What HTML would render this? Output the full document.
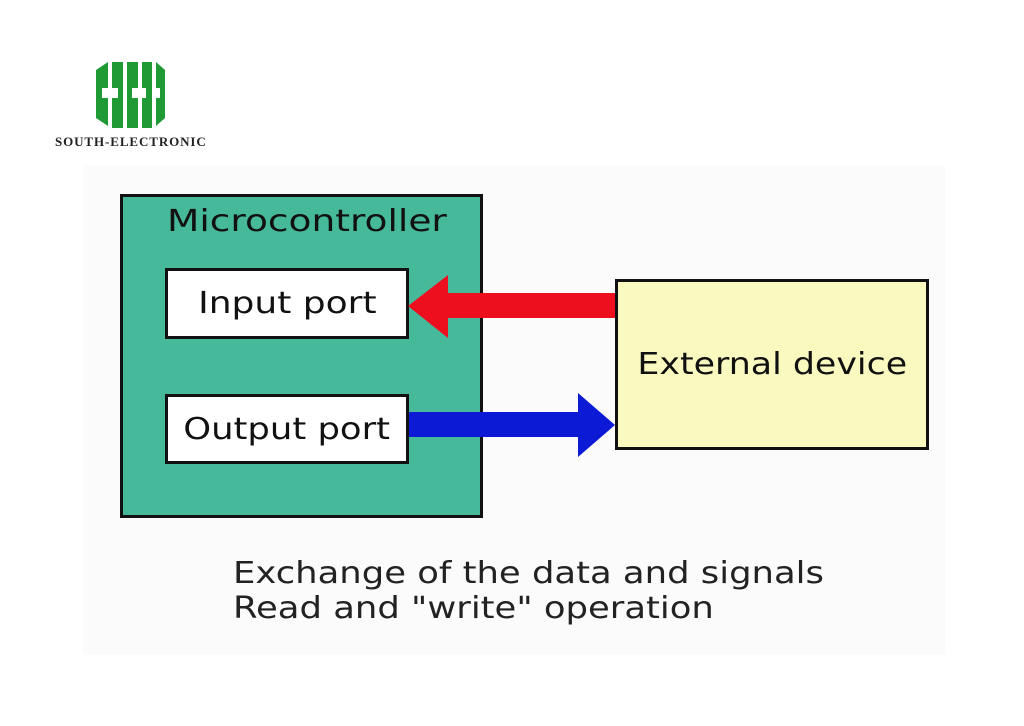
<!DOCTYPE html>
<html><head><style>
body{margin:0;width:1024px;height:726px;background:#fff;position:relative;overflow:hidden;font-family:"DejaVu Sans","Liberation Sans",sans-serif}
.a{position:absolute}
.box{position:absolute;border:3px solid #111;box-sizing:border-box;display:flex;align-items:center;justify-content:center}
.s{display:inline-block;white-space:nowrap}
</style></head><body>
<div class="a" style="left:83px;top:165px;width:862px;height:490px;background:#fbfbfb"></div>
<svg class="a" style="left:90px;top:58px" width="80" height="74" viewBox="0 0 80 74">
<g fill="#1f9a35">
<path d="M6 12 L18 4 L18 30 L12 30 L12 40 L18 40 L18 68 L6 60 Z"/>
<path d="M22 4 L33 4 L33 70 L22 70 L22 40 L28 40 L28 30 L22 30 Z"/>
<path d="M37 4 L48 4 L48 30 L42 30 L42 40 L48 40 L48 70 L37 70 Z"/>
<path d="M52 4 L62 4 L62 70 L52 70 L52 40 L56 40 L56 30 L52 30 Z"/>
<path d="M66 4 L75 12 L75 60 L66 68 L66 40 L70 40 L70 30 L66 30 Z"/>
</g></svg>
<div class="a" style="left:55px;top:134px;font:bold 13px 'Liberation Serif',serif;color:#222;letter-spacing:0.9px">SOUTH-ELECTRONIC</div>
<div class="box" style="left:120px;top:194px;width:363px;height:324px;background:#45b99a"></div>
<div class="a" style="left:167px;top:204px;font-size:30px;color:#111"><span class="s" style="transform:scaleX(1.25);transform-origin:left">Microcontroller</span></div>
<div class="box" style="left:165px;top:268px;width:244px;height:71px;background:#fff;font-size:30px;color:#111"><span class="s" style="transform:scaleX(1.2)">Input port</span></div>
<div class="box" style="left:165px;top:394px;width:244px;height:70px;background:#fff;font-size:30px;color:#111"><span class="s" style="transform:scaleX(1.18)">Output port</span></div>
<div class="box" style="left:615px;top:279px;width:314px;height:171px;background:#fafac0;font-size:30px;color:#111"><span class="s" style="transform:scaleX(1.16)">External device</span></div>
<svg class="a" style="left:0;top:0" width="1024" height="726">
<path d="M615 293 L448 293 L448 275 L408 306 L448 338 L448 318 L615 318 Z" fill="#ee0f1e"/>
<path d="M409 412 L578 412 L578 393 L615 425 L578 457 L578 437 L409 437 Z" fill="#0c1ad6"/>
</svg>
<div class="a" style="left:233px;top:556px;font-size:30px;line-height:35px;color:#222"><span class="s" style="transform:scaleX(1.18);transform-origin:left">Exchange of the data and signals<br>Read and "write" operation</span></div>
</body></html>
